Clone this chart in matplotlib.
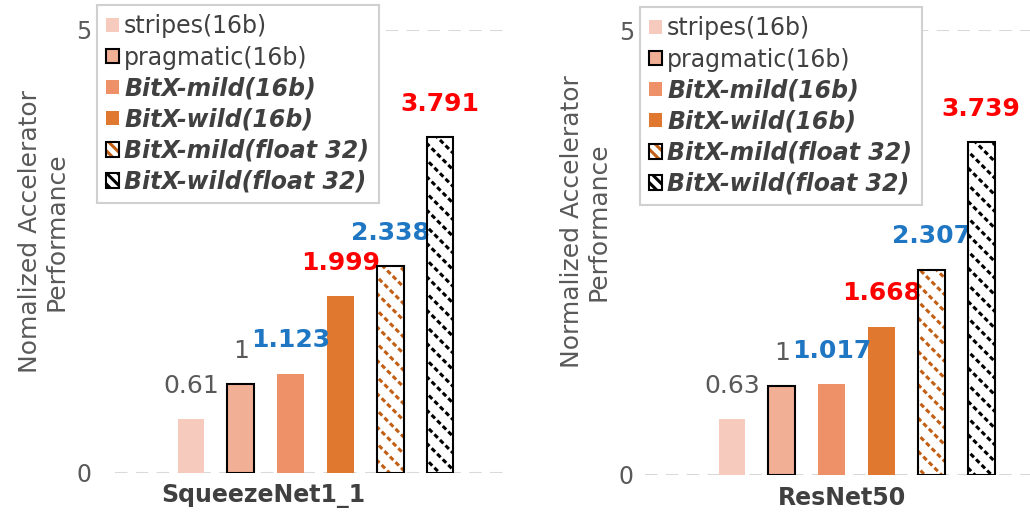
import matplotlib
matplotlib.use("Agg")
import matplotlib.pyplot as plt
import numpy as np
from matplotlib.patches import Patch
from matplotlib.legend_handler import HandlerTuple

# ---- data ----
models = ["SqueezeNet1_1", "ResNet50"]
series = ["stripes(16b)", "pragmatic(16b)", "BitX-mild(16b)", "BitX-wild(16b)",
          "BitX-mild(float 32)", "BitX-wild(float 32)"]
squeezenet_vals = [0.61, 1, 1.123, 1.999, 2.338, 3.791]
resnet_vals = [0.63, 1, 1.017, 1.668, 2.307, 3.739]
value_texts_squeeze = ["0.61", "1", "1.123", "1.999", "2.338", "3.791"]
value_texts_resnet = ["0.63", "1", "1.017", "1.668", "2.307", "3.739"]
ylabels = ["Nomalized Accelerator\nPerformance", "Normalized Accelerator\nPerformance"]
yticks = [0, 5]

# ---- style ----
face_colors = ["#F6CBBD", "#F1B096", "#EF9168", "#E0792F", "white", "white"]
edge_colors = ["none", "black", "none", "none", "black", "black"]
hatches = [None, None, None, None, "\\\\", "\\\\"]
hatch_colors = [None, None, None, None, "#C25F14", "black"]
GRAY = "#595959"
BLUE = "#1F77C4"
RED = "#FF0000"
label_colors = [GRAY, GRAY, BLUE, RED, BLUE, RED]
label_weights = ["normal", "normal", "bold", "bold", "bold", "bold"]
legend_styles = ["normal", "normal", "italic", "italic", "italic", "italic"]

plt.rcParams["font.family"] = ["DejaVu Sans"]
plt.rcParams["hatch.linewidth"] = 2.2

W, H = 1030, 517
fig = plt.figure(figsize=(W / 100, H / 100), dpi=100)

def px_axes(x0, y_bottom_px, x1, y_top_px):
    return [x0 / W, (H - y_bottom_px) / H, (x1 - x0) / W, (y_bottom_px - y_top_px) / H]

panels = [
    dict(rect=px_axes(115, 473, 510, 30), xlim=(-1.526, 6.406), vals=squeezenet_vals,
         texts=value_texts_squeeze, tick=1.46, ylab=(-0.118, 0.545), pad=17,
         leg=(97 / W, 1 - 5 / H)),
    dict(rect=px_axes(645, 475, 1030, 30), xlim=(-1.747, 5.98), vals=resnet_vals,
         texts=value_texts_resnet, tick=2.2, ylab=(-0.09, 0.57), pad=8,
         leg=(640 / W, 1 - 7 / H)),
]

x = np.arange(len(series))
bw = 0.54

for pi, (p, model, ylab) in enumerate(zip(panels, models, ylabels)):
    ax = fig.add_axes(p["rect"])
    ax.set_xlim(*p["xlim"])
    ax.set_ylim(0, 5)
    for s in ax.spines.values():
        s.set_visible(False)
    for yv in yticks:
        ax.axhline(yv, color="#D9D9D9", lw=1.5, ls=(0, (6, 4)), zorder=0)
    handles = []
    for i, v in enumerate(p["vals"]):
        if hatches[i]:
            ax.bar(x[i], v, bw, color="white", edgecolor=hatch_colors[i], hatch=hatches[i],
                   linewidth=0, zorder=2)
            ax.bar(x[i], v, bw, color="none", edgecolor="white", hatch="///",
                   linewidth=0, zorder=3)
            ax.bar(x[i], v, bw, color="none", edgecolor="black", linewidth=1.5, zorder=4)
            h = (Patch(facecolor="white", edgecolor=hatch_colors[i], hatch="\\\\\\", linewidth=0),
                 Patch(facecolor="none", edgecolor="black", linewidth=1.5))
        else:
            lw = 1.5 if edge_colors[i] != "none" else 0
            ax.bar(x[i], v, bw, color=face_colors[i], edgecolor=edge_colors[i],
                   linewidth=lw, zorder=2)
            h = Patch(facecolor=face_colors[i], edgecolor=edge_colors[i], linewidth=lw)
        handles.append(h)
        ax.annotate(p["texts"][i], (x[i], v), xytext=(0, 24), textcoords="offset points",
                    ha="center", va="center", fontsize=18, color=label_colors[i],
                    fontweight=label_weights[i])
    ax.set_yticks(yticks)
    ax.set_yticklabels([str(t) for t in yticks], fontsize=17, color=GRAY)
    ax.tick_params(axis="y", length=0, pad=p["pad"])
    ax.set_xticks([p["tick"]])
    ax.set_xticklabels([model], fontsize=17, fontweight="bold", color="#404040")
    ax.tick_params(axis="x", length=0, pad=8)
    ax.set_ylabel(ylab, fontsize=18, color=GRAY, linespacing=1.1)
    ax.yaxis.set_label_coords(*p["ylab"])

    leg = ax.legend(handles, series, loc="upper left", bbox_to_anchor=p["leg"],
                    bbox_transform=fig.transFigure, fontsize=17, frameon=True,
                    fancybox=False, edgecolor="#D0D0D0", framealpha=1,
                    handlelength=0.55, handleheight=0.55, handletextpad=0.2,
                    labelspacing=0.3, borderpad=0.4, borderaxespad=0,
                    handler_map={tuple: HandlerTuple(ndivide=1, pad=0)})
    leg.get_frame().set_linewidth(1.5)
    for t, st in zip(leg.get_texts(), legend_styles):
        t.set_color("#404040")
        if st == "italic":
            t.set_fontstyle("italic")
            t.set_fontweight("bold")

fig.savefig("out.png", dpi=100)
